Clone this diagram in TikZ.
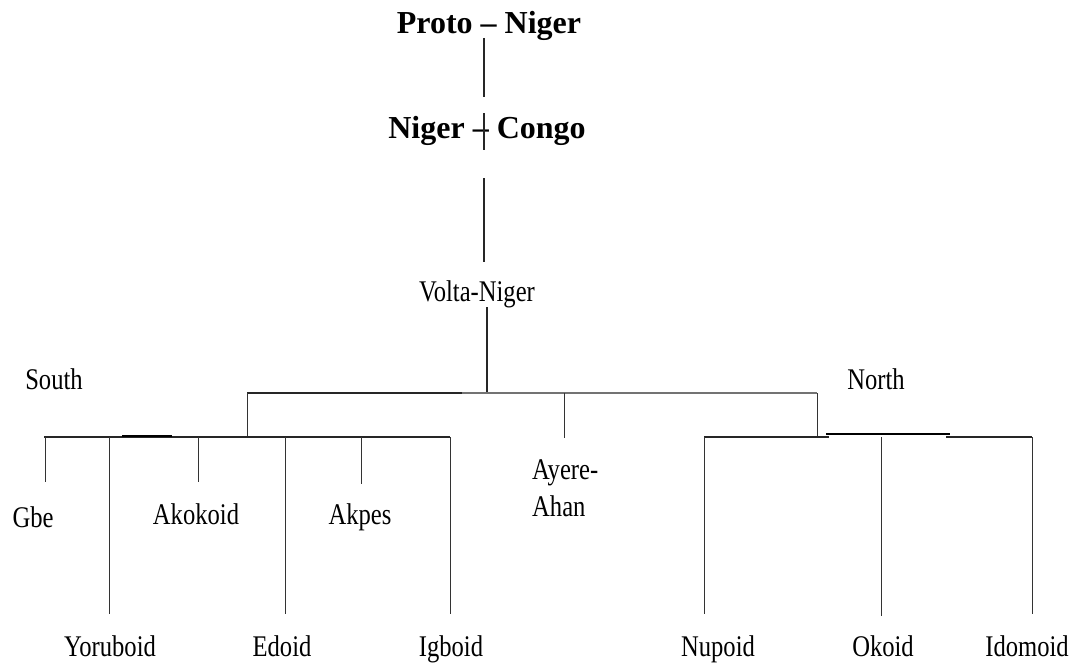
\documentclass[tikz,border=0pt]{standalone}
\usepackage{fontspec}
\setmainfont{Liberation Serif}
\newfontfamily\cond[FakeStretch=0.82]{Liberation Serif}
\begin{document}
\begin{tikzpicture}[x=1pt,y=-1pt,
  ttl/.style={font=\fontsize{32}{34}\selectfont\bfseries, inner sep=0pt, anchor=base},
  lbl/.style={font=\fontsize{30}{36}\selectfont\cond, inner sep=0pt, anchor=base},
  ln/.style={line width=1.1pt, draw=black!85},
  thin/.style={line width=0.9pt, draw=black!80},
  gr/.style={line width=1.3pt, draw=black!55},
  thick/.style={line width=2.2pt, draw=black}]
\useasboundingbox (0,0) rectangle (1084,669);
% titles
\node[ttl] (pn) at (489,34) {Proto -- Niger};
\node[ttl] (nc) at (487,138) {Niger -- Congo};
\node[lbl] (vn) at (477,301) {Volta-Niger};
\node[lbl] (south) at (54,389) {South};
\node[lbl] (north) at (876,389) {North};
\node[lbl] (gbe) at (33,527) {Gbe};
\node[lbl] (ako) at (196,524) {Akokoid};
\node[lbl] (akp) at (360,524) {Akpes};
\node[lbl, align=left, anchor=north west, font=\fontsize{30}{37}\selectfont\cond] (aa) at (532,459) {Ayere-\\Ahan};
\node[lbl] (yor) at (110,656) {Yoruboid};
\node[lbl] (edo) at (282,656) {Edoid};
\node[lbl] (igb) at (451,656) {Igboid};
\node[lbl] (nup) at (718,656) {Nupoid};
\node[lbl] (oko) at (883,656) {Okoid};
\node[lbl] (ido) at (1027,656) {Idomoid};
% coordinates
\coordinate (a1) at (484,38);  \coordinate (a2) at (484,97);
\coordinate (b1) at (484,113); \coordinate (b2) at (484,150);
\coordinate (c1) at (484,178); \coordinate (c2) at (484,262);
\coordinate (v1) at (487,307); \coordinate (v2) at (487,393);
\coordinate (hL) at (247,393); \coordinate (hM) at (462,393); \coordinate (hR) at (817,393);
\coordinate (sL) at (247,437); \coordinate (mid) at (564,393); \coordinate (midb) at (564,438);
\coordinate (nR) at (817,437);
% top chain
\draw[ln] (a1) -- (a2);
\draw[ln] (b1) -- (b2);
\draw[ln] (c1) -- (c2);
\draw[ln] (v1) -- (v2);
% main bar
\draw[ln] (hL) -- (hM);
\draw[gr] (hM) -- (hR);
\draw[thin] (hL) -- (sL);
\draw[thin] (mid) -- (midb);
\draw[thin] (hR) -- (nR);
% south bar
\coordinate (s0) at (44,437); \coordinate (s1) at (450,437);
\draw[ln] (s0) -- (s1);
\coordinate (t0) at (122,436); \coordinate (t1) at (172,436);
\draw[thick] (t0) -- (t1);
\foreach \x/\y/\n in {45/482/gb, 109/614/yo, 198/482/ak, 285/614/ed, 361/484/kp, 450/614/ig}{
  \coordinate (\n top) at (\x,437); \coordinate (\n bot) at (\x,\y);
  \draw[thin] (\n top) -- (\n bot);
}
% north bar
\coordinate (n0) at (704,437); \coordinate (n1) at (829,437);
\coordinate (n2) at (826,434); \coordinate (n3) at (950,434);
\coordinate (n4) at (946,437); \coordinate (n5) at (1032,437);
\draw[ln] (n0) -- (n1);
\draw[thick] (n2) -- (n3);
\draw[ln] (n4) -- (n5);
\foreach \x/\y/\n in {704/614/nu, 881/616/ok, 1032/614/id}{
  \coordinate (\n top) at (\x,437); \coordinate (\n bot) at (\x,\y);
  \draw[thin] (\n top) -- (\n bot);
}
\end{tikzpicture}
\end{document}
